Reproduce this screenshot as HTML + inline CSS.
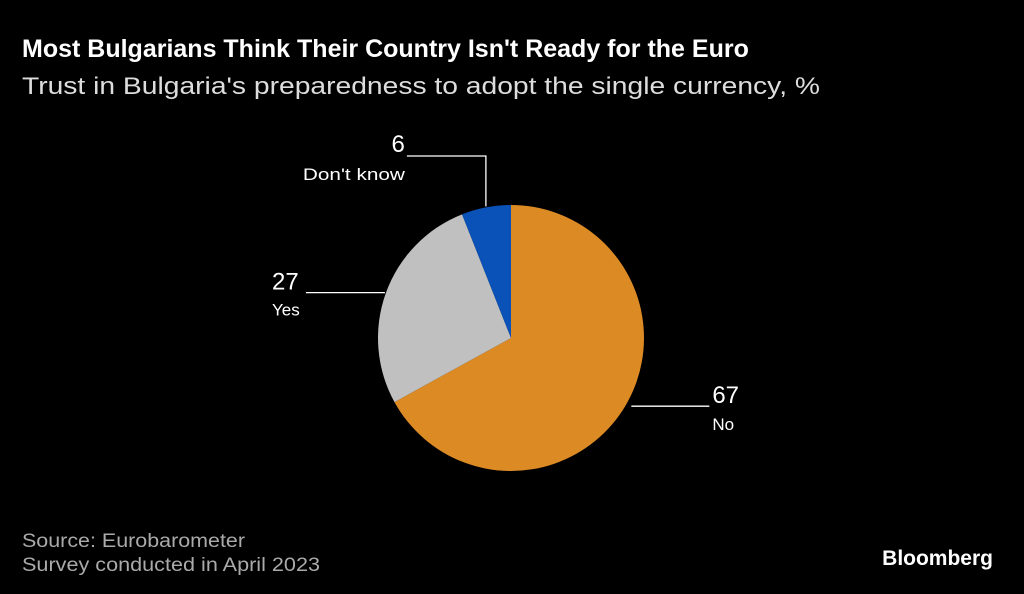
<!DOCTYPE html>
<html><head><meta charset="utf-8"><style>
html,body{margin:0;padding:0;background:#000;width:1024px;height:594px;overflow:hidden}
svg{display:block;font-family:"Liberation Sans",sans-serif}
</style></head><body>
<svg id="chart" width="1024" height="594">
<text x="22" y="57" fill="#fff" font-size="25" font-weight="bold">Most Bulgarians Think Their Country Isn't Ready for the Euro</text>
<text x="22" y="94" fill="#ddd" font-size="24" textLength="798" lengthAdjust="spacingAndGlyphs">Trust in Bulgaria's preparedness to adopt the single currency, %</text>
<g id="slices"></g>
<g id="labels"></g>
<text x="22" y="547" fill="#aaa" font-size="19" textLength="223" lengthAdjust="spacingAndGlyphs">Source: Eurobarometer</text>
<text x="22" y="571" fill="#aaa" font-size="19" textLength="298" lengthAdjust="spacingAndGlyphs">Survey conducted in April 2023</text>
<text x="993" y="565" fill="#fff" font-size="21" font-weight="bold" text-anchor="end">Bloomberg</text>
</svg>
<script>
const categories=["No","Yes","Don't know"];
const values=[67,27,6];
const colors=["#dc8a24","#c0c0c0","#0a52b8"];
const NS="http://www.w3.org/2000/svg";
const cx=511,cy=338,r=133;
const total=values.reduce((a,b)=>a+b,0);
const g=document.getElementById('slices');
function pt(a,rr){return [cx+rr*Math.sin(a),cy-rr*Math.cos(a)];}
let start=0;
const mids=[];
values.forEach((v,i)=>{
  const end=start+v/total*2*Math.PI;
  const [x1,y1]=pt(start,r),[x2,y2]=pt(end,r);
  const p=document.createElementNS(NS,'path');
  p.setAttribute('d',`M${cx},${cy}L${x1},${y1}A${r},${r} 0 ${end-start>Math.PI?1:0} 1 ${x2},${y2}Z`);
  p.setAttribute('fill',colors[i]);
  
  
  g.appendChild(p);
  mids.push((start+end)/2);
  start=end;
});
const lg=document.getElementById('labels');
function add(tag,attrs,text,name){
  const e=document.createElementNS(NS,tag);
  for(const k in attrs)e.setAttribute(k,attrs[k]);
  if(text!==undefined)e.textContent=text;
  
  
  lg.appendChild(e);return e;
}
function catLen(s){return Math.round(s.length*10.2);}
mids.forEach((m,i)=>{
  const [ex,ey]=pt(m,r+1);
  let d,tx,ty,anchor;
  if(Math.sin(m)>0 && Math.cos(m)<0){
    d=`M${ex+5},${ey}L${ex+83},${ey}`;tx=ex+86;ty=ey;anchor='start';
  } else if(Math.cos(m)>0.9){
    const yy=156;d=`M${ex},${ey}L${ex},${yy}L${ex-79},${yy}`;tx=ex-82;ty=yy;anchor='end';
  } else {
    d=`M${ex},${ey}L${ex-79},${ey}`;tx=ex-82;ty=ey;anchor=null;
  }
  add('path',{d:d,stroke:'#fff','stroke-width':1.3,fill:'none'},undefined,'leader-line');
  if(anchor===null){
    add('text',{x:272,y:ty-3,fill:'#fff','font-size':24},String(values[i]),'value-label');
    add('text',{x:272,y:ty+23,fill:'#fff','font-size':17},categories[i],'category-label');
  } else if(anchor==='start'){
    add('text',{x:tx,y:ty-3,fill:'#fff','font-size':24},String(values[i]),'value-label');
    add('text',{x:tx,y:ty+24,fill:'#fff','font-size':17},categories[i],'category-label');
  } else {
    add('text',{x:tx+1,y:ty-4,fill:'#fff','font-size':24,'text-anchor':'end'},String(values[i]),'value-label');
    add('text',{x:tx+1,y:ty+24,fill:'#fff','font-size':17,'text-anchor':'end',textLength:catLen(categories[i]),lengthAdjust:'spacingAndGlyphs'},categories[i],'category-label');
  }
});
</script>
</body></html>
